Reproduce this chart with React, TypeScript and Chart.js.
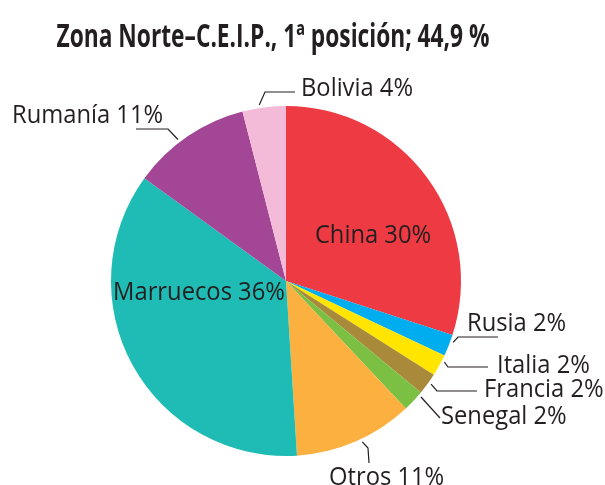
import React, { useEffect, useRef } from "react";
import { Chart, registerables } from "chart.js";

Chart.register(...registerables);

const TITLE = "Zona Norte–C.E.I.P., 1ª posición; 44,9 %";
const countries = ["China", "Rusia", "Italia", "Francia", "Senegal", "Otros", "Marruecos", "Rumanía", "Bolivia"];
const shares = [30, 2, 2, 2, 2, 11, 36, 11, 4];
const colors = ["#EE3A43", "#00AEEF", "#FFE500", "#A88A3A", "#7CC043", "#FBB040", "#1FBCB5", "#A44696", "#F4BBD8"];

// label layout (annotation positions, not data)
type Lbl =
  | { kind: "in"; x: number; y: number }
  | { kind: "out"; at: number; pts: number[][]; x: number; y: number };
const LAYOUT: Lbl[] = [
  { kind: "in", x: 373, y: 244 },
  { kind: "out", at: 0.3, pts: [[458, 337], [498, 337]], x: 467, y: 332 },
  { kind: "out", at: 0.27, pts: [[448, 367], [488, 367]], x: 497, y: 374 },
  { kind: "out", at: 0.42, pts: [[437, 391], [477, 391]], x: 484, y: 398 },
  { kind: "out", at: 0.15, pts: [[440, 418]], x: 441, y: 425 },
  { kind: "out", at: 0.45, pts: [[368, 448], [369, 463]], x: 329, y: 486 },
  { kind: "in", x: 199, y: 301 },
  { kind: "out", at: 0.42, pts: [[168, 129], [136, 129]], x: 12, y: 124 },
  { kind: "out", at: 0.4, pts: [[265, 92], [295, 92]], x: 301, y: 97 },
];

const FONT = "25px 'Open Sans'";
const SQUEEZE = 0.95;

function drawText(ctx: CanvasRenderingContext2D, text: string, x: number, y: number, align: "left" | "center") {
  ctx.save();
  ctx.translate(x, y);
  ctx.scale(SQUEEZE, 1);
  ctx.textAlign = align;
  ctx.textBaseline = "middle";
  ctx.fillText(text, 0, 0);
  ctx.restore();
}

const labelPlugin = {
  id: "pieLabels",
  afterDatasetsDraw(chart: any) {
    const ctx: CanvasRenderingContext2D = chart.ctx;
    ctx.save();
    // title
    ctx.fillStyle = "#231F20";
    ctx.font = "bold 32px 'Open Sans'";
    const tw = ctx.measureText(TITLE).width;
    ctx.save();
    ctx.translate(273, 38);
    ctx.scale(433 / tw, 1);
    ctx.textAlign = "center";
    ctx.textBaseline = "middle";
    ctx.fillText(TITLE, 0, 0);
    ctx.restore();

    const meta = chart.getDatasetMeta(0);
    ctx.font = FONT;
    meta.data.forEach((arc: any, i: number) => {
      const L = LAYOUT[i];
      const label = `${countries[i]} ${shares[i]}%`;
      ctx.fillStyle = "#231F20";
      if (L.kind === "in") {
        drawText(ctx, label, L.x, L.y - 8, "center");
        return;
      }
      const p = arc.getProps(["x", "y", "startAngle", "endAngle", "outerRadius"], true);
      const a = p.startAngle + (p.endAngle - p.startAngle) * L.at;
      const r = p.outerRadius + 3;
      ctx.beginPath();
      ctx.moveTo(p.x + Math.cos(a) * r, p.y + Math.sin(a) * r);
      L.pts.forEach((q) => ctx.lineTo(q[0], q[1]));
      ctx.strokeStyle = "#231F20";
      ctx.lineWidth = 1.2;
      ctx.stroke();
      drawText(ctx, label, L.x, L.y - 8, "left");
    });
    ctx.restore();
  },
};

export default function App() {
  const ref = useRef<HTMLCanvasElement>(null);
  useEffect(() => {
    if (!ref.current) return;
    const chart = new Chart(ref.current, {
      type: "pie",
      data: {
        labels: countries,
        datasets: [{ data: shares, backgroundColor: colors, borderWidth: 0 }],
      },
      options: {
        animation: false,
        responsive: false,
        layout: { padding: { left: 111, right: 144, top: 106, bottom: 29 } },
        plugins: { legend: { display: false }, tooltip: { enabled: false }, title: { display: false } },
      },
      plugins: [labelPlugin],
    });
    return () => chart.destroy();
  }, []);
  return (
    <div style={{ position: "absolute", left: 0, top: 0, width: 605, height: 485, background: "#fff" }}>
      <canvas ref={ref} width={605} height={485} />
    </div>
  );
}
